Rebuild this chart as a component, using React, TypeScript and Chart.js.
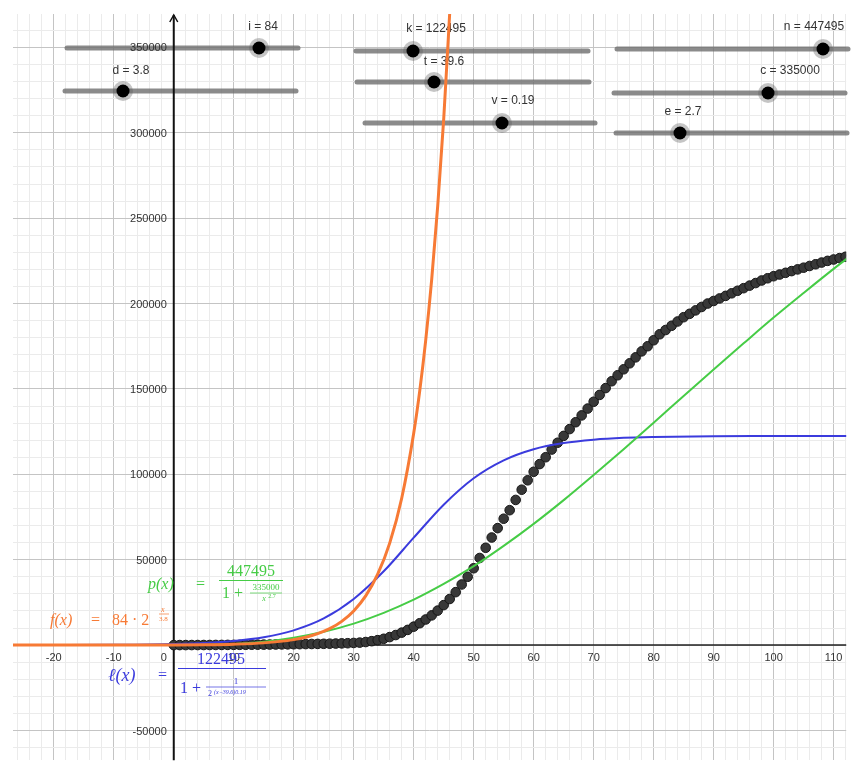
import React, { useEffect, useRef } from "react";
import { Chart, registerables } from "chart.js";

Chart.register(...registerables);

// ---- data ----
const orangeX = [-27, -20, -10, 0, 5, 10, 15, 20, 22, 24, 26, 28, 30, 32, 34, 36, 38, 40, 41, 42, 43, 44, 45, 46];
const orangeY = [1, 2, 14, 84, 210, 520, 1300, 3200, 4600, 6700, 9600, 13900, 20000, 28800, 41500, 59700, 86000, 124000, 148700, 178400, 214100, 257000, 308000, 370000];

const greenX = [0, 2, 5, 10, 15, 20, 25, 30, 35, 40, 45, 50, 55, 60, 65, 70, 75, 80, 85, 90, 95, 100, 105, 110, 113];
const greenY = [0, 9, 103, 670, 1990, 4300, 7800, 12600, 18900, 26600, 35800, 46200, 58100, 71000, 84900, 99600, 114700, 130200, 145900, 161400, 176700, 191800, 206200, 220300, 228400];

const blueX = [-27, -20, -10, 0, 5, 10, 15, 20, 25, 30, 35, 40, 45, 50, 55, 60, 65, 70, 75, 80, 90, 100, 113];
const blueY = [20, 50, 180, 660, 1270, 2440, 4620, 8630, 15600, 27000, 43200, 62900, 82200, 97700, 108200, 114700, 118300, 120300, 121400, 121900, 122340, 122450, 122490];

const dotDays = Array.from({ length: 114 }, (_, i) => i);
const dotY = [
  0, 10, 20, 30, 40, 50, 60, 80, 100, 120,
  140, 160, 190, 220, 250, 280, 320, 360, 400, 450,
  500, 550, 600, 650, 700, 760, 820, 900, 1000, 1100,
  1250, 1450, 1800, 2300, 2900, 3700, 4700, 5900, 7300, 8900,
  10800, 12800, 15000, 17400, 20200, 23400, 27000, 31000, 35500, 40000,
  45000, 51000, 57000, 63000, 68500, 74000, 79000, 85000, 91000, 96500,
  101500, 106000, 110000, 114500, 118500, 122500, 126500, 130500, 134500, 138500,
  142500, 146500, 150500, 154500, 158000, 161500, 165000, 168500, 172000, 175000,
  178500, 182000, 184500, 187000, 189500, 192000, 194000, 196000, 198000, 200000,
  201500, 203000, 204500, 206000, 207500, 209000, 210500, 212000, 213500, 214800,
  216000, 217000, 218000, 219000, 220000, 221000, 222000, 223000, 224000, 225000,
  225800, 226600, 227400, 228200,
];

const xTickLabels = [-20, -10, 0, 10, 20, 30, 40, 50, 60, 70, 80, 90, 100, 110];
const yTickLabels = [-50000, 50000, 100000, 150000, 200000, 250000, 300000, 350000];

const sliderLabels = ["i = 84", "d = 3.8", "k = 122495", "t = 39.6", "v = 0.19", "n = 447495", "c = 335000", "e = 2.7"];

// ---- layout (pixels) ----
const sliderLayout = [
  { x1: 67, x2: 298, y: 48, knob: 259, lx: 263, ly: 27 },
  { x1: 65, x2: 296, y: 91, knob: 123, lx: 131, ly: 71 },
  { x1: 356, x2: 588, y: 51, knob: 413, lx: 436, ly: 29 },
  { x1: 357, x2: 589, y: 82, knob: 434, lx: 444, ly: 62 },
  { x1: 365, x2: 595, y: 123, knob: 502, lx: 513, ly: 101 },
  { x1: 617, x2: 848, y: 49, knob: 823, lx: 814, ly: 27 },
  { x1: 614, x2: 845, y: 93, knob: 768, lx: 790, ly: 71 },
  { x1: 616, x2: 847, y: 133, knob: 680, lx: 683, ly: 112 },
];

const ORANGE = "#f77a35";
const GREEN = "#46cc46";
const BLUE = "#3b3bdd";
const SANS = '"Liberation Sans", Arial, sans-serif';
const SERIF = '"Liberation Serif", "DejaVu Serif", serif';

function pts(xs: number[], ys: number[]) {
  return xs.map((x, i) => ({ x, y: ys[i] }));
}

function txt(ctx: CanvasRenderingContext2D, s: string, x: number, y: number, font: string, color: string, align: CanvasTextAlign = "left") {
  ctx.font = font;
  ctx.fillStyle = color;
  ctx.textAlign = align;
  ctx.textBaseline = "middle";
  ctx.fillText(s, x, y);
}

function line(ctx: CanvasRenderingContext2D, x1: number, y1: number, x2: number, y2: number, color: string, w: number) {
  ctx.beginPath();
  ctx.moveTo(x1, y1);
  ctx.lineTo(x2, y2);
  ctx.strokeStyle = color;
  ctx.lineWidth = w;
  ctx.stroke();
}

const decorPlugin = {
  id: "decor",
  beforeDatasetsDraw(chart: any) {
    const ctx: CanvasRenderingContext2D = chart.ctx;
    const xs = chart.scales.x;
    const ys = chart.scales.y;
    const area = chart.chartArea;
    ctx.save();
    // sliders
    sliderLayout.forEach((s, i) => {
      ctx.lineCap = "round";
      line(ctx, s.x1, s.y, s.x2, s.y, "rgba(110,110,110,0.8)", 5);
      ctx.beginPath();
      ctx.arc(s.knob, s.y, 10, 0, Math.PI * 2);
      ctx.fillStyle = "rgba(90,90,90,0.35)";
      ctx.fill();
      ctx.beginPath();
      ctx.arc(s.knob, s.y, 6.5, 0, Math.PI * 2);
      ctx.fillStyle = "#000";
      ctx.fill();
      txt(ctx, sliderLabels[i], s.lx, s.ly, `12px ${SANS}`, "#333", "center");
    });
    ctx.lineCap = "butt";
    // axes
    const x0 = xs.getPixelForValue(0);
    const y0 = ys.getPixelForValue(0);
    line(ctx, area.left, y0, area.right, y0, "#222", 1.5);
    line(ctx, x0, area.bottom, x0, area.top + 1, "#111", 2);
    ctx.beginPath();
    ctx.moveTo(x0 - 4, area.top + 8);
    ctx.lineTo(x0, area.top + 1);
    ctx.lineTo(x0 + 4, area.top + 8);
    ctx.strokeStyle = "#111";
    ctx.lineWidth = 1.5;
    ctx.stroke();
    // tick labels
    xTickLabels.forEach((v) => {
      const px = xs.getPixelForValue(v);
      if (v === 0) txt(ctx, "0", px - 10, y0 + 13, `11px ${SANS}`, "#333", "center");
      else txt(ctx, String(v), px, y0 + 13, `11px ${SANS}`, "#333", "center");
    });
    yTickLabels.forEach((v) => {
      txt(ctx, String(v), x0 - 7, ys.getPixelForValue(v) + 1, `11px ${SANS}`, "#333", "right");
    });
    ctx.restore();
  },
  afterDatasetsDraw(chart: any) {
    const ctx: CanvasRenderingContext2D = chart.ctx;
    ctx.save();
    // f(x) = 84 * 2^(x/3.8)
    txt(ctx, "f(x)", 50, 621, `italic 16px ${SERIF}`, ORANGE);
    txt(ctx, "=", 91, 621, `16px ${SERIF}`, ORANGE);
    txt(ctx, "84 · 2", 112, 621, `16px ${SERIF}`, ORANGE);
    txt(ctx, "x", 161, 610, `italic 8px ${SERIF}`, ORANGE);
    txt(ctx, "3.8", 159, 619, `7px ${SERIF}`, ORANGE);
    line(ctx, 159, 614, 169, 614, ORANGE, 0.7);
    // p(x) = 447495 / (1 + 335000 / x^2.7)
    txt(ctx, "p(x)", 148, 585, `italic 16px ${SERIF}`, GREEN);
    txt(ctx, "=", 196, 585, `16px ${SERIF}`, GREEN);
    txt(ctx, "447495", 251, 572, `16px ${SERIF}`, GREEN, "center");
    line(ctx, 219, 580.5, 283, 580.5, GREEN, 1);
    txt(ctx, "1 +", 222, 594, `16px ${SERIF}`, GREEN);
    txt(ctx, "335000", 266, 588, `9px ${SERIF}`, GREEN, "center");
    line(ctx, 250, 593, 282, 593, GREEN, 0.7);
    txt(ctx, "x", 264, 599, `italic 8px ${SERIF}`, GREEN, "center");
    txt(ctx, "2.7", 272, 596, `6px ${SERIF}`, GREEN, "center");
    // l(x) = 122495 / (1 + 1 / 2^((x-39.6)0.19))
    txt(ctx, "ℓ(x)", 108, 676, `italic 18px ${SERIF}`, BLUE);
    txt(ctx, "=", 158, 676, `16px ${SERIF}`, BLUE);
    txt(ctx, "122495", 221, 660, `16px ${SERIF}`, BLUE, "center");
    line(ctx, 178, 668.5, 266, 668.5, BLUE, 1);
    txt(ctx, "1 +", 180, 689, `16px ${SERIF}`, BLUE);
    txt(ctx, "1", 236, 682, `9px ${SERIF}`, BLUE, "center");
    line(ctx, 206, 687, 266, 687, BLUE, 0.7);
    txt(ctx, "2", 208, 694, `8px ${SERIF}`, BLUE);
    txt(ctx, "(x−39.6)0.19", 214, 692, `italic 6px ${SERIF}`, BLUE);
    ctx.restore();
  },
};

export default function App() {
  const ref = useRef<HTMLCanvasElement | null>(null);
  useEffect(() => {
    if (!ref.current) return;
    const lineDs = (label: string, xs: number[], ys: number[], color: string, w: number) => ({
      label,
      data: pts(xs, ys),
      showLine: true,
      borderColor: color,
      backgroundColor: color,
      borderWidth: w,
      pointRadius: 0,
      cubicInterpolationMode: "monotone" as const,
    });
    const chart = new Chart(ref.current, {
      type: "scatter",
      data: {
        datasets: [
          { ...lineDs("f", orangeX, orangeY, ORANGE, 3) },
          { ...lineDs("p", greenX, greenY, GREEN, 2) },
          { ...lineDs("l", blueX, blueY, BLUE, 2) },
          {
            label: "data",
            data: pts(dotDays, dotY),
            showLine: false,
            pointRadius: 4.8,
            pointBorderWidth: 1,
            backgroundColor: "#383838",
            borderColor: "#161616",
          },
        ],
      },
      options: {
        animation: false,
        responsive: false,
        events: [],
        layout: { padding: { left: 13, top: 14, right: 0, bottom: 0 } },
        plugins: { legend: { display: false }, tooltip: { enabled: false } },
        scales: {
          x: {
            type: "linear",
            min: -26.8,
            max: 112.1,
            afterBuildTicks: (s: any) => {
              const t = [];
              for (let v = -26; v <= 112; v += 2) t.push({ value: v });
              s.ticks = t;
            },
            ticks: { display: false },
            border: { display: false },
            grid: {
              drawTicks: false,
              color: (c: any) => (c.tick && c.tick.value % 10 === 0 ? "#c4c4c4" : "#ebebeb"),
              lineWidth: 1,
            },
          },
          y: {
            type: "linear",
            min: -67400,
            max: 369550,
            afterBuildTicks: (s: any) => {
              const t = [];
              for (let v = -60000; v <= 360000; v += 10000) t.push({ value: v });
              s.ticks = t;
            },
            ticks: { display: false },
            border: { display: false },
            grid: {
              drawTicks: false,
              color: (c: any) => (c.tick && c.tick.value % 50000 === 0 ? "#c4c4c4" : "#ebebeb"),
              lineWidth: 1,
            },
          },
        },
      },
      plugins: [decorPlugin],
    });
    return () => chart.destroy();
  }, []);
  return (
    <div style={{ position: "absolute", left: 0, top: 0, width: 852, height: 766, background: "#fff" }}>
      <canvas ref={ref} width={852} height={766} />
    </div>
  );
}
